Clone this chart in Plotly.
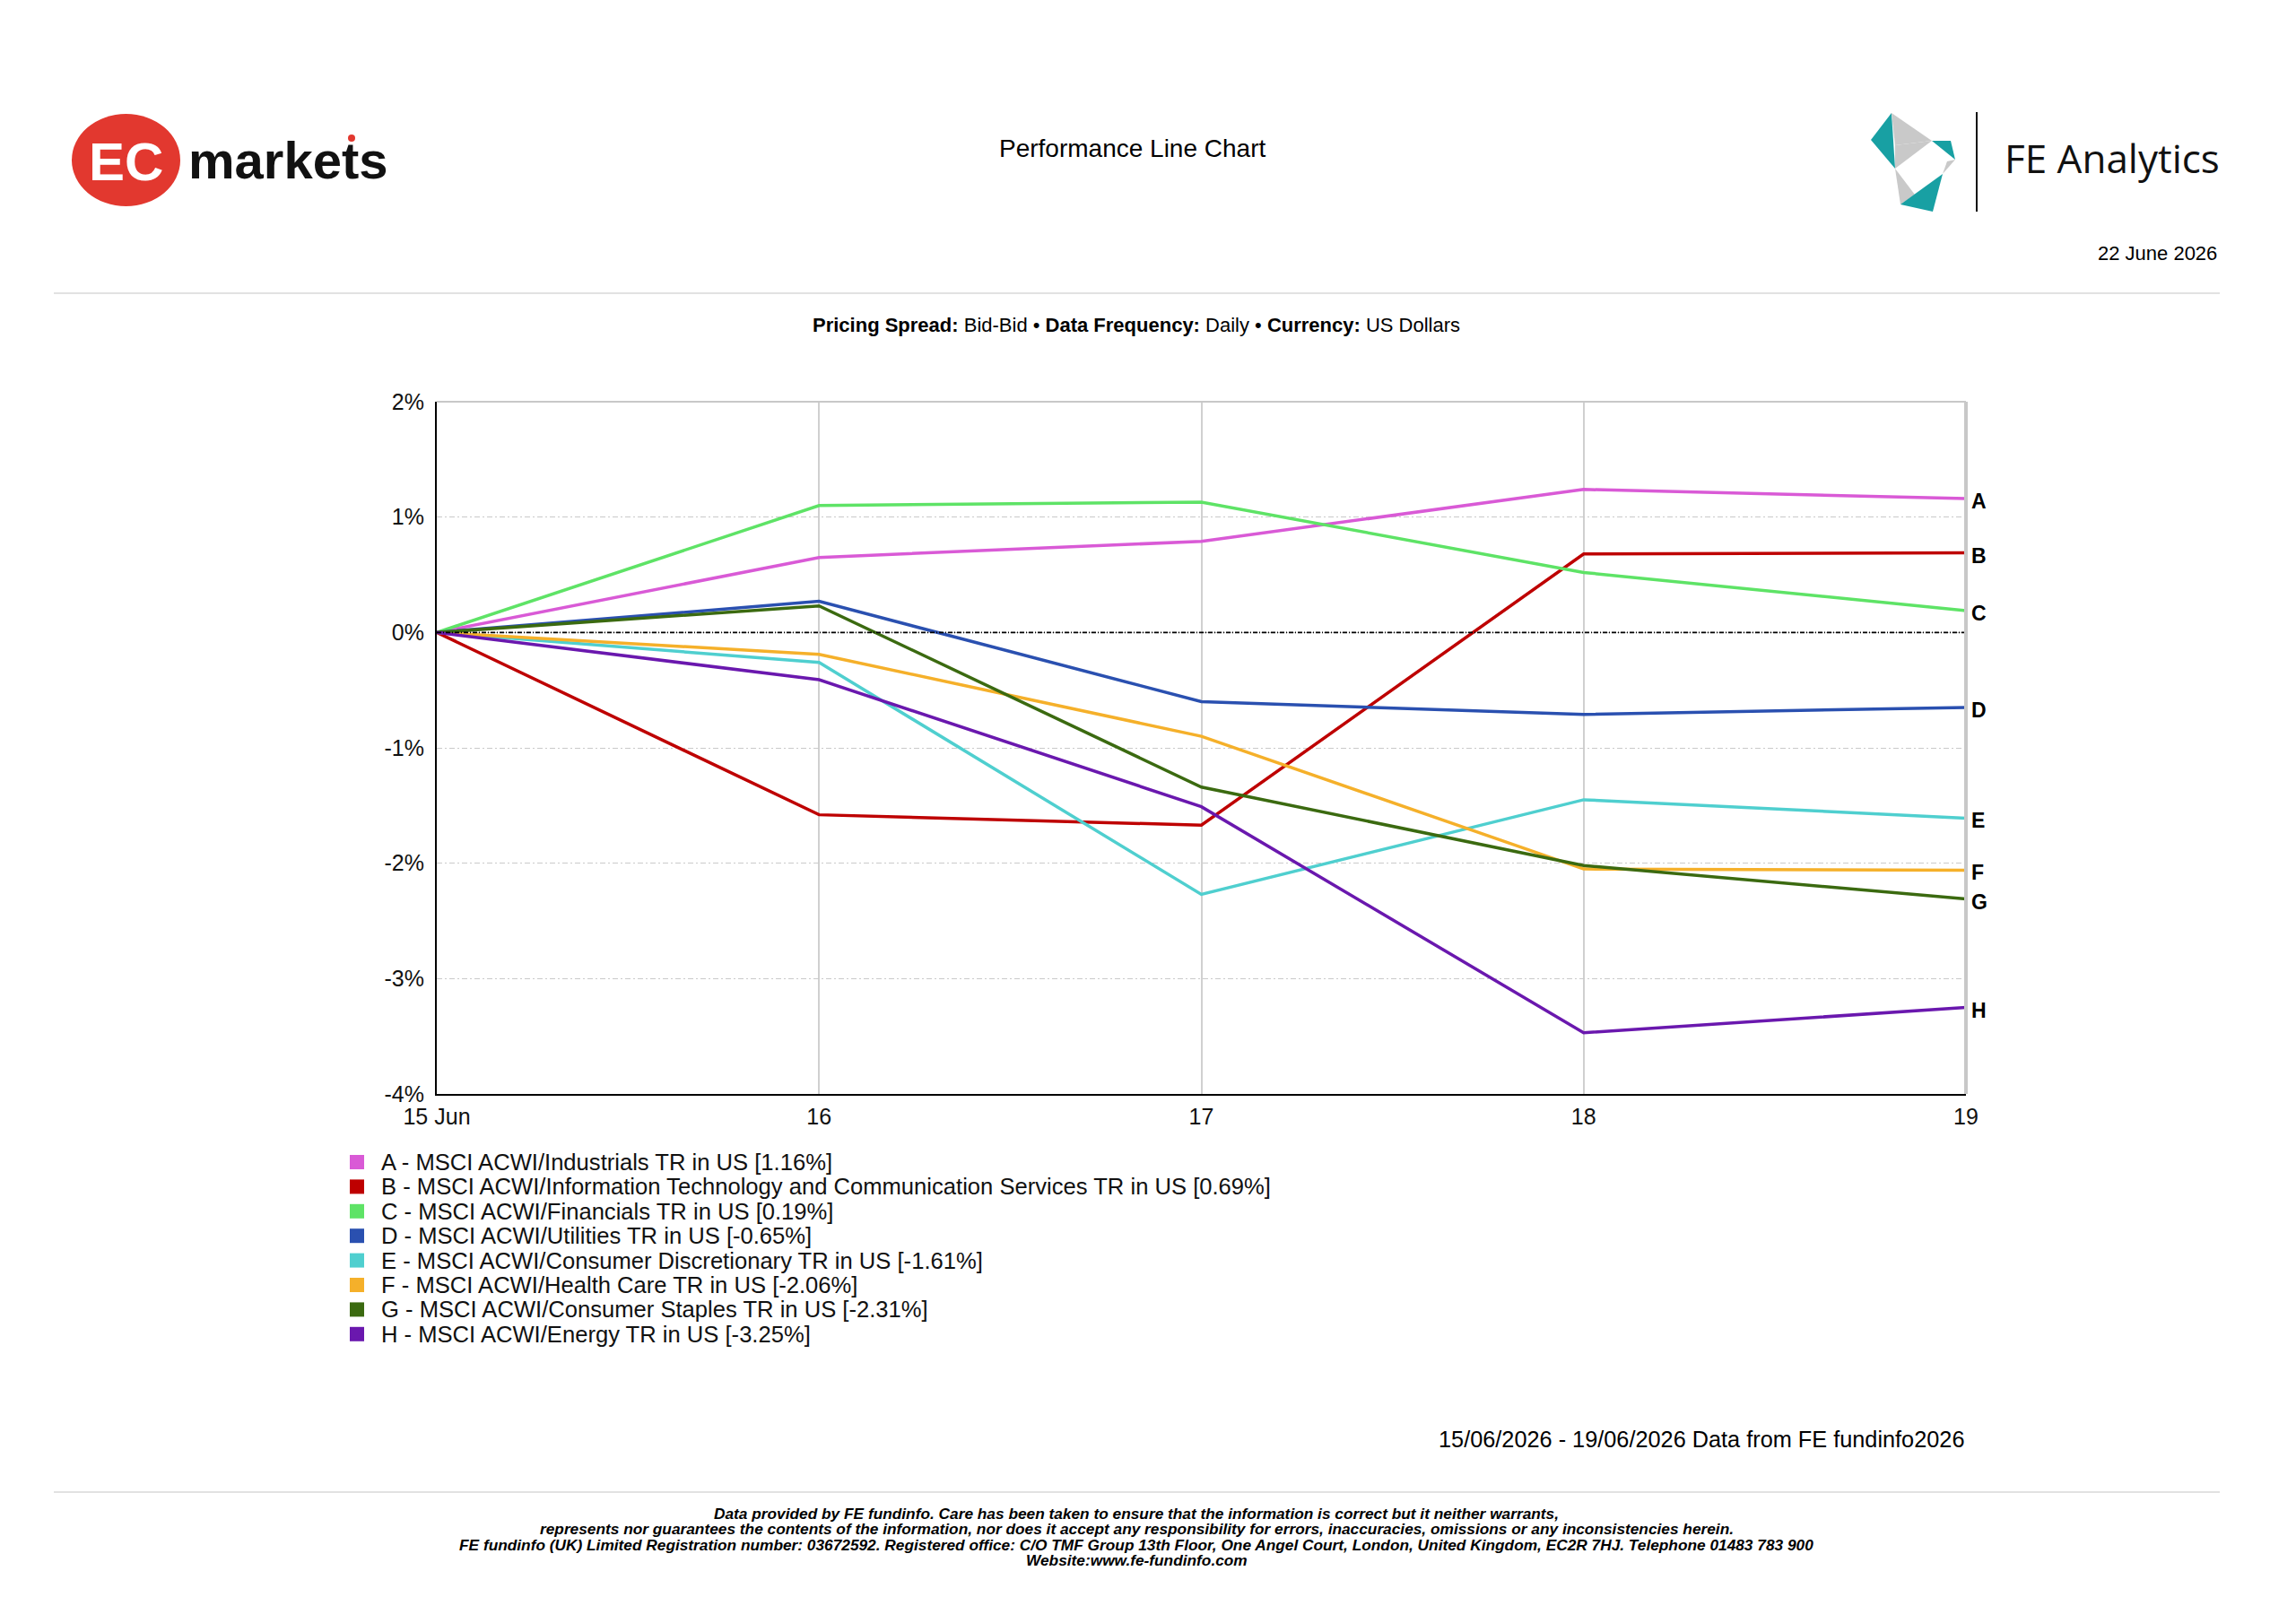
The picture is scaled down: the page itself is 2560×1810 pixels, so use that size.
import plotly.graph_objects as go

# ---------------- data ----------------
dates = ["2026-06-15", "2026-06-16", "2026-06-17", "2026-06-18", "2026-06-19"]
x_tick_labels = ["15 Jun", "16", "17", "18", "19"]
y_tick_values = [-4, -3, -2, -1, 0, 1, 2]
y_tick_labels = ["-4%", "-3%", "-2%", "-1%", "0%", "1%", "2%"]

letters = ["A", "B", "C", "D", "E", "F", "G", "H"]
series_names = [
    "MSCI ACWI/Industrials TR in US",
    "MSCI ACWI/Information Technology and Communication Services TR in US",
    "MSCI ACWI/Financials TR in US",
    "MSCI ACWI/Utilities TR in US",
    "MSCI ACWI/Consumer Discretionary TR in US",
    "MSCI ACWI/Health Care TR in US",
    "MSCI ACWI/Consumer Staples TR in US",
    "MSCI ACWI/Energy TR in US",
]
colors = ["#D95AD6", "#BE0000", "#5EE366", "#2A50B0", "#4FCFCF", "#F5B02A", "#3B6A10", "#6A18AE"]

a_industrials = [0.0, 0.65, 0.79, 1.24, 1.16]
b_infotech = [0.0, -1.58, -1.67, 0.68, 0.69]
c_financials = [0.0, 1.10, 1.13, 0.52, 0.19]
d_utilities = [0.0, 0.27, -0.60, -0.71, -0.65]
e_cons_disc = [0.0, -0.26, -2.27, -1.45, -1.61]
f_health = [0.0, -0.19, -0.90, -2.05, -2.06]
g_cons_staples = [0.0, 0.23, -1.34, -2.02, -2.31]
h_energy = [0.0, -0.41, -1.51, -3.47, -3.25]
series_values = [a_industrials, b_infotech, c_financials, d_utilities,
                 e_cons_disc, f_health, g_cons_staples, h_energy]

title_text = "Performance Line Chart"
report_date = "22 June 2026"
subtitle = ("<b>Pricing Spread:</b> Bid-Bid \u2022 <b>Data Frequency:</b> Daily "
            "\u2022 <b>Currency:</b> US Dollars")
range_note = "15/06/2026 - 19/06/2026 Data from FE fundinfo2026"
footer_lines = [
    "Data provided by FE fundinfo. Care has been taken to ensure that the information is correct but it neither warrants,",
    "represents nor guarantees the contents of the information, nor does it accept any responsibility for errors, inaccuracies, omissions or any inconsistencies herein.",
    "FE fundinfo (UK) Limited Registration number: 03672592. Registered office: C/O TMF Group 13th Floor, One Angel Court, London, United Kingdom, EC2R 7HJ. Telephone 01483 783 900",
    "Website:www.fe-fundinfo.com",
]

# ---------------- layout geometry ----------------
W, H = 2560, 1810
ML, MR, MT, MB = 487, 368, 448, 590
PW = W - ML - MR
PH = H - MT - MB


def px(X):
    return (X - ML) / PW


def py(Y):
    return (H - MB - Y) / PH


FONT = "Liberation Sans, Arial, sans-serif"

fig = go.Figure()

for letter, name, vals, col in zip(letters, series_names, series_values, colors):
    fig.add_trace(go.Scatter(
        x=dates, y=vals, mode="lines", name=f"{letter} - {name}",
        line=dict(color=col, width=3.5), showlegend=False,
        hovertemplate="%{y:.2f}%<extra>" + letter + "</extra>",
    ))

annotations = []
shapes = []

# end labels A-H
for letter, vals in zip(letters, series_values):
    annotations.append(dict(
        x=dates[-1], y=vals[-1], xref="x", yref="y", text=f"<b>{letter}</b>",
        showarrow=False, xanchor="left", yanchor="middle", xshift=4, yshift=-3,
        font=dict(family=FONT, size=23, color="#000000"),
    ))

# zero line (dash-dot)
shapes.append(dict(type="line", xref="paper", yref="y", x0=0, x1=1, y0=0, y1=0,
                   line=dict(color="#000000", width=1.8, dash="5px,2px,1px,2px"), layer="above"))
# top and right borders (grey)
shapes.append(dict(type="line", xref="paper", yref="paper", x0=0, x1=1, y0=1, y1=1,
                   line=dict(color="#C8C8C8", width=2)))
shapes.append(dict(type="line", xref="paper", yref="paper", x0=1, x1=1, y0=0, y1=1,
                   line=dict(color="#C8C8C8", width=4)))

# separators
for ysep in [327, 1664]:
    shapes.append(dict(type="line", xref="paper", yref="paper", x0=px(60), x1=px(2475),
                       y0=py(ysep), y1=py(ysep), line=dict(color="#D8D8D8", width=1.5)))

# legend (manual, square swatches)
LEG_Y0, LEG_DY = 1296, 27.4
for i, (letter, name, vals, col) in enumerate(zip(letters, series_names, series_values, colors)):
    yc = LEG_Y0 + i * LEG_DY
    shapes.append(dict(type="rect", xref="paper", yref="paper",
                       x0=px(390), x1=px(406), y0=py(yc - 8), y1=py(yc + 8),
                       fillcolor=col, line=dict(width=0)))
    annotations.append(dict(
        x=px(423), y=py(yc), xref="paper", yref="paper",
        text=f"{letter} - {name} [{vals[-1]:.2f}%]", showarrow=False,
        xanchor="left", yanchor="middle",
        font=dict(family=FONT, size=25.6, color="#111111"),
    ))

# header texts
annotations.append(dict(x=px(1262), y=py(165), xref="paper", yref="paper", text=title_text,
                        showarrow=False, xanchor="center", yanchor="middle",
                        font=dict(family=FONT, size=28, color="#000000")))
annotations.append(dict(x=px(2474), y=py(283), xref="paper", yref="paper", text=report_date,
                        showarrow=False, xanchor="right", yanchor="middle",
                        font=dict(family=FONT, size=22, color="#000000")))
annotations.append(dict(x=px(1267), y=py(362), xref="paper", yref="paper", text=subtitle,
                        showarrow=False, xanchor="center", yanchor="middle",
                        font=dict(family=FONT, size=22, color="#000000")))
annotations.append(dict(x=px(2192), y=py(1605), xref="paper", yref="paper", text=range_note,
                        showarrow=False, xanchor="right", yanchor="middle",
                        font=dict(family=FONT, size=25.3, color="#000000")))
for i, line in enumerate(footer_lines):
    annotations.append(dict(x=px(1267), y=py(1688 + i * 17.4), xref="paper", yref="paper",
                            text=f"<b><i>{line}</i></b>", showarrow=False,
                            xanchor="center", yanchor="middle",
                            font=dict(family=FONT, size=17.3, color="#000000")))

# EC markets logo
shapes.append(dict(type="circle", xref="paper", yref="paper",
                   x0=px(80), x1=px(201), y0=py(127), y1=py(230),
                   fillcolor="#E2382F", line=dict(width=0)))
annotations.append(dict(x=px(140), y=py(180), xref="paper", yref="paper", text="<b>EC</b>",
                        showarrow=False, xanchor="center", yanchor="middle",
                        font=dict(family=FONT, size=60, color="#FFFFFF")))
annotations.append(dict(x=px(208), y=py(178), xref="paper", yref="paper", text="<b>markets</b>",
                        showarrow=False, xanchor="left", yanchor="middle",
                        font=dict(family=FONT, size=58, color="#111111")))
shapes.append(dict(type="circle", xref="paper", yref="paper",
                   x0=px(388), x1=px(396), y0=py(150), y1=py(158),
                   fillcolor="#E2382F", line=dict(width=0)))

# FE Analytics logo
TEAL, GREY = "#18A0A3", "#C9C9C9"
tris = [
    (TEAL, [(2086, 156), (2109, 126), (2113, 188)]),
    (GREY, [(2109, 126), (2154, 157), (2113, 162)]),
    (GREY, [(2113, 162), (2154, 157), (2113, 188)]),
    (TEAL, [(2154, 157), (2175, 157), (2180, 178)]),
    (GREY, [(2166, 194), (2180, 178), (2171, 180)]),
    (GREY, [(2113, 188), (2135, 217), (2119, 228)]),
    (TEAL, [(2119, 228), (2166, 194), (2155, 236)]),
]
for col, pts in tris:
    path = "M " + " L ".join(f"{px(a):.5f},{py(b):.5f}" for a, b in pts) + " Z"
    shapes.append(dict(type="path", xref="paper", yref="paper", path=path,
                       fillcolor=col, line=dict(width=0)))
shapes.append(dict(type="line", xref="paper", yref="paper", x0=px(2204), x1=px(2204),
                   y0=py(125), y1=py(236), line=dict(color="#111111", width=2)))
annotations.append(dict(x=px(2233), y=py(176), xref="paper", yref="paper", text="FE Analytics",
                        showarrow=False, xanchor="left", yanchor="middle",
                        font=dict(family="Open Sans, Noto Sans, sans-serif", size=44, color="#111111")))

fig.update_layout(
    width=W, height=H,
    margin=dict(l=ML, r=MR, t=MT, b=MB, pad=0, autoexpand=False),
    paper_bgcolor="#FFFFFF", plot_bgcolor="#FFFFFF",
    showlegend=False,
    annotations=annotations, shapes=shapes,
    font=dict(family=FONT, color="#000000"),
    xaxis=dict(
        type="date", range=[dates[0], dates[-1]],
        tickmode="array", tickvals=dates, ticktext=x_tick_labels,
        showgrid=True, gridcolor="#D0D0D0", gridwidth=2,
        showline=True, linecolor="#000000", linewidth=2,
        ticks="", ticklabelstandoff=2,
        tickfont=dict(family=FONT, size=25, color="#111111"),
        zeroline=False, automargin=False,
    ),
    yaxis=dict(
        range=[-4, 2], tickmode="array", tickvals=y_tick_values, ticktext=y_tick_labels,
        showgrid=True, gridcolor="#CACACA", gridwidth=1, griddash="6px,3px,2px,3px",
        showline=True, linecolor="#000000", linewidth=2,
        ticks="", ticklabelstandoff=7,
        tickfont=dict(family=FONT, size=25, color="#111111"),
        zeroline=False, automargin=False,
    ),
)

fig.write_html("out.html")
